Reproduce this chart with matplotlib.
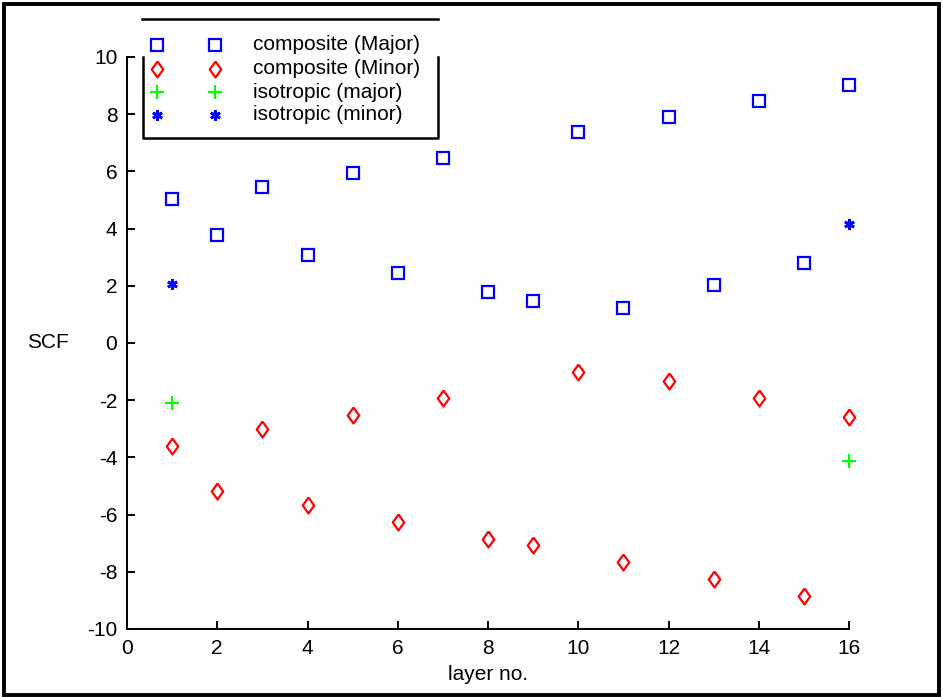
import matplotlib.pyplot as plt
from matplotlib.lines import Line2D
from matplotlib.patches import Rectangle

plt.rcParams['font.family'] = ['Liberation Sans', 'DejaVu Sans']
plt.rcParams['font.size'] = 15
plt.rcParams['axes.unicode_minus'] = False

# data
layers = list(range(1, 17))
comp_major = [5.03, 3.78, 5.45, 3.08, 5.94, 2.45, 6.47, 1.78,
              1.47, 7.38, 1.22, 7.90, 2.03, 8.46, 2.80, 9.02]
comp_minor = [-3.60, -5.17, -3.01, -5.66, -2.52, -6.26, -1.92, -6.85,
              -7.06, -1.01, -7.66, -1.33, -8.25, -1.92, -8.85, -2.59]
iso_layers = [1, 16]
iso_major = [-2.10, -4.13]
iso_minor = [2.08, 4.16]

W, H = 943, 697
fig = plt.figure(figsize=(W / 100, H / 100), dpi=100)
ax = fig.add_axes([127 / W, 1 - 629 / H, (849 - 127) / W, (629 - 57) / H])

diamond = [(0, 1), (0.72, 0), (0, -1), (-0.72, 0), (0, 1)]
st_sq = dict(marker='s', mfc='none', mec='#0000ff', ms=8.5, mew=1.6)
st_di = dict(marker=diamond, mfc='none', mec='#ff0000', ms=11.5, mew=1.6)
st_pl = dict(marker='+', color='#00ff00', ms=10, mew=1.6)
st_as = dict(marker=(6, 2, 0), color='#0000ff', ms=7.5, mew=2.0)

ax.plot(layers, comp_major, ls='none', clip_on=False, **st_sq)
ax.plot(layers, comp_minor, ls='none', clip_on=False, **st_di)
ax.plot(iso_layers, iso_major, ls='none', clip_on=False, **st_pl)
ax.plot(iso_layers, iso_minor, ls='none', clip_on=False, **st_as)

ax.set_xlim(0, 16)
ax.set_ylim(-10, 10)
ax.set_xticks(range(0, 17, 2))
ax.set_yticks(range(-10, 11, 2))
ax.spines['top'].set_visible(False)
ax.spines['right'].set_visible(False)
for s in ['left', 'bottom']:
    ax.spines[s].set_linewidth(1.4)
ax.tick_params(direction='in', length=6, width=1.4, pad=7, labelsize=15)
ax.set_xlabel('layer no.', fontsize=15, labelpad=5)
ax.set_ylabel('SCF', fontsize=15, rotation=0, labelpad=28, va='center')


def fx(px):
    return px / W


def fy(py):
    return 1 - py / H


# legend, drawn by hand like the old style one
tf = fig.transFigure
lw = 1.8
fig.add_artist(Line2D([fx(142), fx(438)], [fy(19), fy(19)], color='k', lw=lw, transform=tf))
fig.add_artist(Line2D([fx(143), fx(143), fx(438), fx(438)],
                      [fy(57), fy(138), fy(138), fy(57)], color='k', lw=lw, transform=tf))

names = ['composite (Major)', 'composite (Minor)', 'isotropic (major)', 'isotropic (minor)']
rows = [45, 69, 92, 115]
for name, r, st in zip(names, rows, [st_sq, st_di, st_pl, st_as]):
    fig.add_artist(Line2D([fx(157), fx(215)], [fy(r), fy(r)], ls='none', transform=tf, **st))
    fig.text(fx(253), fy(r), name, va='center', ha='left', fontsize=15)

# thick frame round the whole figure
fig.add_artist(Rectangle((fx(4), fy(695)), fx(935), 691 / H, fill=False,
                         edgecolor='k', lw=2.8, transform=tf))

fig.savefig('out.png', dpi=100)
